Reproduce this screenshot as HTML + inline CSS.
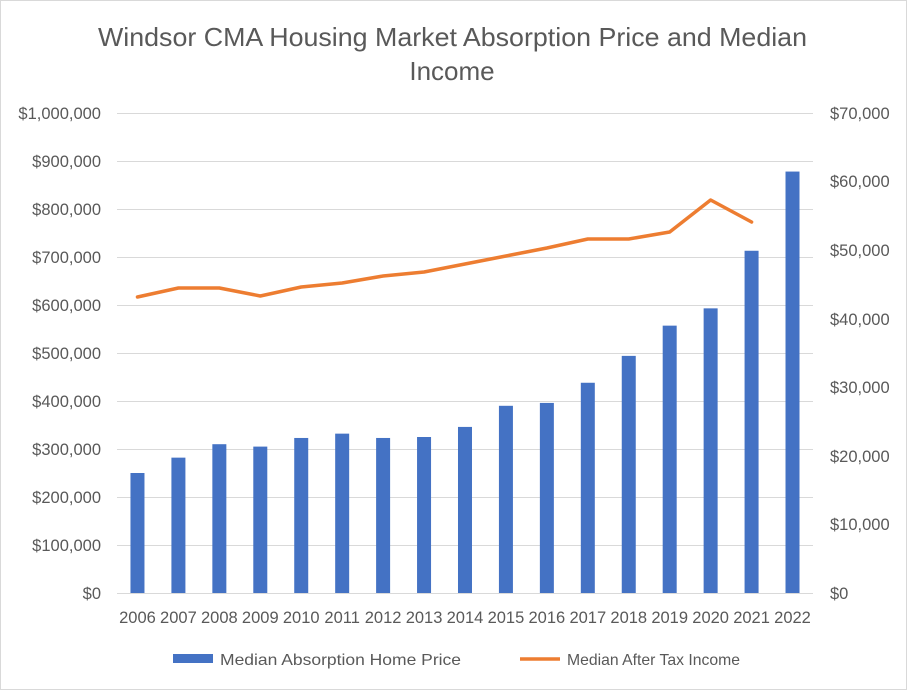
<!DOCTYPE html>
<html><head><style>body{margin:0;background:#fff}svg{display:block}text{font-family:"Liberation Sans",sans-serif;fill:#595959}</style></head><body>
<svg width="907" height="690" viewBox="0 0 907 690" xmlns="http://www.w3.org/2000/svg">
<rect x="0.5" y="0.5" width="906" height="689" fill="#fff" stroke="#d9d9d9"/>
<text x="98" y="46" font-size="26" textLength="709" lengthAdjust="spacingAndGlyphs">Windsor CMA Housing Market Absorption Price and Median</text>
<text x="452" y="80" font-size="26" text-anchor="middle">Income</text>
<g stroke="#d9d9d9" stroke-width="1">
<line x1="117" x2="813" y1="113.5" y2="113.5"/><line x1="117" x2="813" y1="161.5" y2="161.5"/><line x1="117" x2="813" y1="209.5" y2="209.5"/><line x1="117" x2="813" y1="257.5" y2="257.5"/><line x1="117" x2="813" y1="305.5" y2="305.5"/><line x1="117" x2="813" y1="353.5" y2="353.5"/><line x1="117" x2="813" y1="401.5" y2="401.5"/><line x1="117" x2="813" y1="449.5" y2="449.5"/><line x1="117" x2="813" y1="497.5" y2="497.5"/><line x1="117" x2="813" y1="545.5" y2="545.5"/><line x1="117" x2="813" y1="593.5" y2="593.5"/>
</g>
<g font-size="16.5" text-anchor="end">
<text x="101" y="119">$1,000,000</text><text x="101" y="167">$900,000</text><text x="101" y="215">$800,000</text><text x="101" y="263">$700,000</text><text x="101" y="311">$600,000</text><text x="101" y="359">$500,000</text><text x="101" y="407">$400,000</text><text x="101" y="455">$300,000</text><text x="101" y="503">$200,000</text><text x="101" y="551">$100,000</text><text x="101" y="599">$0</text>
</g>
<g font-size="16.5" text-anchor="start">
<text x="830" y="119">$70,000</text><text x="830" y="187">$60,000</text><text x="830" y="256">$50,000</text><text x="830" y="325">$40,000</text><text x="830" y="393">$30,000</text><text x="830" y="462">$20,000</text><text x="830" y="530">$10,000</text><text x="830" y="599">$0</text>
</g>
<g fill="#4472c4" id="bars"></g>
<polyline id="ln" fill="none" stroke="#ed7d31" stroke-width="3.5" stroke-linejoin="round" stroke-linecap="round"/>
<g font-size="16.5" text-anchor="middle" id="xl"></g>
<rect x="173" y="654" width="40" height="9" fill="#4472c4"/>
<text x="220" y="665" font-size="16" textLength="241" lengthAdjust="spacingAndGlyphs">Median Absorption  Home Price</text>
<line x1="520" x2="560" y1="659" y2="659" stroke="#ed7d31" stroke-width="3.5"/>
<text x="567" y="665" font-size="16" textLength="173" lengthAdjust="spacingAndGlyphs">Median After Tax Income</text>
<script>
var v=[250,282,310,305,323,332,323,325,346,390,396,438,494,557,593,713,878];
var ly=[297,288,288,296,287,283,276,272,264,256,248,239,239,232,200,222];
var ns="http://www.w3.org/2000/svg",b=document.getElementById('bars'),xl=document.getElementById('xl'),pts=[];
for(var i=0;i<17;i++){var c=117+40.94*(i+0.5);var h=v[i]*0.48;
var r=document.createElementNS(ns,'rect');r.setAttribute('x',c-7);r.setAttribute('width',14);r.setAttribute('y',593-h);r.setAttribute('height',h);b.appendChild(r);
var t=document.createElementNS(ns,'text');t.setAttribute('x',c);t.setAttribute('y',623);t.textContent=2006+i;xl.appendChild(t);
if(i<16)pts.push(c+','+ly[i]);}
document.getElementById('ln').setAttribute('points',pts.join(' '));
</script>
</svg>
</body></html>
